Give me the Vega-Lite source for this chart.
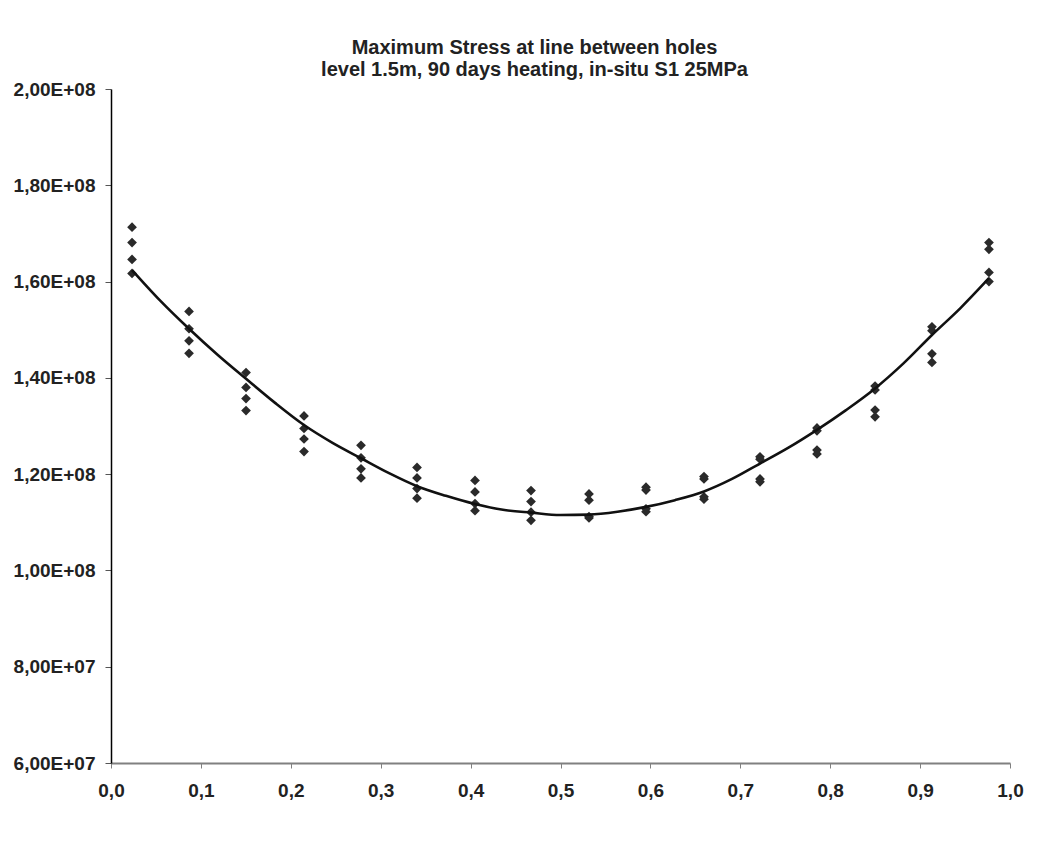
{
  "$schema": "https://vega.github.io/schema/vega-lite/v6.json",
  "width": 899,
  "height": 674,
  "autosize": {"type": "none"},
  "padding": {"left": 111, "top": 89, "right": 30, "bottom": 82},
  "background": "white",
  "config": {
    "view": {"stroke": null},
    "font": "Liberation Sans"
  },
  "title": {
    "text": ["Maximum Stress at line between holes", "level 1.5m, 90 days heating, in-situ S1 25MPa"],
    "font": "Liberation Sans",
    "fontSize": 20,
    "fontWeight": "bold",
    "color": "#222222",
    "anchor": "middle",
    "frame": "group",
    "dx": -26,
    "dy": 10,
    "offset": 10,
    "lineHeight": 22
  },
  "datasets": {
    "pts": [
      {"x": 0.0234, "y": 1.713e8}, {"x": 0.0234, "y": 1.681e8}, {"x": 0.0234, "y": 1.646e8}, {"x": 0.0234, "y": 1.617e8},
      {"x": 0.0868, "y": 1.538e8}, {"x": 0.0868, "y": 1.502e8}, {"x": 0.0868, "y": 1.477e8}, {"x": 0.0868, "y": 1.451e8},
      {"x": 0.1502, "y": 1.411e8}, {"x": 0.1502, "y": 1.380e8}, {"x": 0.1502, "y": 1.357e8}, {"x": 0.1502, "y": 1.332e8},
      {"x": 0.2147, "y": 1.321e8}, {"x": 0.2147, "y": 1.295e8}, {"x": 0.2147, "y": 1.273e8}, {"x": 0.2147, "y": 1.247e8},
      {"x": 0.2781, "y": 1.260e8}, {"x": 0.2781, "y": 1.234e8}, {"x": 0.2781, "y": 1.211e8}, {"x": 0.2781, "y": 1.192e8},
      {"x": 0.3404, "y": 1.214e8}, {"x": 0.3404, "y": 1.192e8}, {"x": 0.3404, "y": 1.170e8}, {"x": 0.3404, "y": 1.150e8},
      {"x": 0.4049, "y": 1.187e8}, {"x": 0.4049, "y": 1.163e8}, {"x": 0.4049, "y": 1.139e8}, {"x": 0.4049, "y": 1.124e8},
      {"x": 0.4672, "y": 1.166e8}, {"x": 0.4672, "y": 1.143e8}, {"x": 0.4672, "y": 1.121e8}, {"x": 0.4672, "y": 1.104e8},
      {"x": 0.5317, "y": 1.159e8}, {"x": 0.5317, "y": 1.146e8}, {"x": 0.5317, "y": 1.112e8}, {"x": 0.5317, "y": 1.109e8},
      {"x": 0.5951, "y": 1.173e8}, {"x": 0.5951, "y": 1.167e8}, {"x": 0.5951, "y": 1.128e8}, {"x": 0.5951, "y": 1.122e8},
      {"x": 0.6596, "y": 1.195e8}, {"x": 0.6596, "y": 1.190e8}, {"x": 0.6596, "y": 1.153e8}, {"x": 0.6596, "y": 1.148e8},
      {"x": 0.7219, "y": 1.236e8}, {"x": 0.7219, "y": 1.231e8}, {"x": 0.7219, "y": 1.190e8}, {"x": 0.7219, "y": 1.184e8},
      {"x": 0.7853, "y": 1.296e8}, {"x": 0.7853, "y": 1.290e8}, {"x": 0.7853, "y": 1.250e8}, {"x": 0.7853, "y": 1.242e8},
      {"x": 0.8499, "y": 1.383e8}, {"x": 0.8499, "y": 1.375e8}, {"x": 0.8499, "y": 1.333e8}, {"x": 0.8499, "y": 1.319e8},
      {"x": 0.9132, "y": 1.506e8}, {"x": 0.9132, "y": 1.498e8}, {"x": 0.9132, "y": 1.450e8}, {"x": 0.9132, "y": 1.432e8},
      {"x": 0.9766, "y": 1.681e8}, {"x": 0.9766, "y": 1.667e8}, {"x": 0.9766, "y": 1.619e8}, {"x": 0.9766, "y": 1.600e8}
    ],
    "trend": [
      {"x": 0.0234, "y": 1.624e8},
      {"x": 0.0550, "y": 1.560e8},
      {"x": 0.0868, "y": 1.502e8},
      {"x": 0.1185, "y": 1.448e8},
      {"x": 0.1502, "y": 1.398e8},
      {"x": 0.1825, "y": 1.348e8},
      {"x": 0.2147, "y": 1.302e8},
      {"x": 0.2464, "y": 1.265e8},
      {"x": 0.2781, "y": 1.233e8},
      {"x": 0.3093, "y": 1.202e8},
      {"x": 0.3404, "y": 1.175e8},
      {"x": 0.3726, "y": 1.155e8},
      {"x": 0.4049, "y": 1.138e8},
      {"x": 0.4360, "y": 1.126e8},
      {"x": 0.4672, "y": 1.120e8},
      {"x": 0.5000, "y": 1.115e8},
      {"x": 0.5317, "y": 1.116e8},
      {"x": 0.5634, "y": 1.122e8},
      {"x": 0.5951, "y": 1.132e8},
      {"x": 0.6273, "y": 1.146e8},
      {"x": 0.6596, "y": 1.164e8},
      {"x": 0.6908, "y": 1.190e8},
      {"x": 0.7219, "y": 1.222e8},
      {"x": 0.7536, "y": 1.255e8},
      {"x": 0.7853, "y": 1.292e8},
      {"x": 0.8176, "y": 1.333e8},
      {"x": 0.8499, "y": 1.378e8},
      {"x": 0.8815, "y": 1.430e8},
      {"x": 0.9132, "y": 1.489e8},
      {"x": 0.9449, "y": 1.545e8},
      {"x": 0.9766, "y": 1.607e8}
    ]
  },
  "encoding": {
    "x": {
      "field": "x",
      "type": "quantitative",
      "scale": {"domain": [0, 1], "nice": false, "zero": false},
      "axis": {
        "title": null,
        "values": [0, 0.1, 0.2, 0.3, 0.4, 0.5, 0.6, 0.7, 0.8, 0.9, 1.0],
        "labelExpr": "replace(format(datum.value, '.1f'), '.', ',')",
        "labelFont": "Liberation Sans",
        "labelFontSize": 19,
        "labelFontWeight": "bold",
        "labelColor": "#222222",
        "labelPadding": 13,
        "labelFlush": false,
        "labelOverlap": false,
        "domainColor": "#808080",
        "domainWidth": 2,
        "tickColor": "#808080",
        "tickSize": 5,
        "tickWidth": 1,
        "grid": false
      }
    },
    "y": {
      "field": "y",
      "type": "quantitative",
      "scale": {"domain": [60000000, 200000000], "nice": false, "zero": false},
      "axis": {
        "title": null,
        "values": [60000000, 80000000, 100000000, 120000000, 140000000, 160000000, 180000000, 200000000],
        "labelExpr": "replace(replace(format(datum.value, '.2e'), '.', ','), 'e+', 'E+0')",
        "labelFont": "Liberation Sans",
        "labelFontSize": 19,
        "labelFontWeight": "bold",
        "labelColor": "#222222",
        "labelPadding": 10,
        "labelFlush": false,
        "labelOverlap": false,
        "domainColor": "#000000",
        "domainWidth": 1.5,
        "tickColor": "#555555",
        "tickSize": 6,
        "tickWidth": 1,
        "grid": false
      }
    }
  },
  "layer": [
    {
      "data": {"name": "pts"},
      "mark": {"type": "point", "shape": "diamond", "filled": true, "size": 95, "color": "#2a2a2a", "opacity": 1}
    },
    {
      "data": {"name": "trend"},
      "mark": {"type": "line", "color": "#111111", "strokeWidth": 2.6, "interpolate": "monotone"}
    }
  ]
}
